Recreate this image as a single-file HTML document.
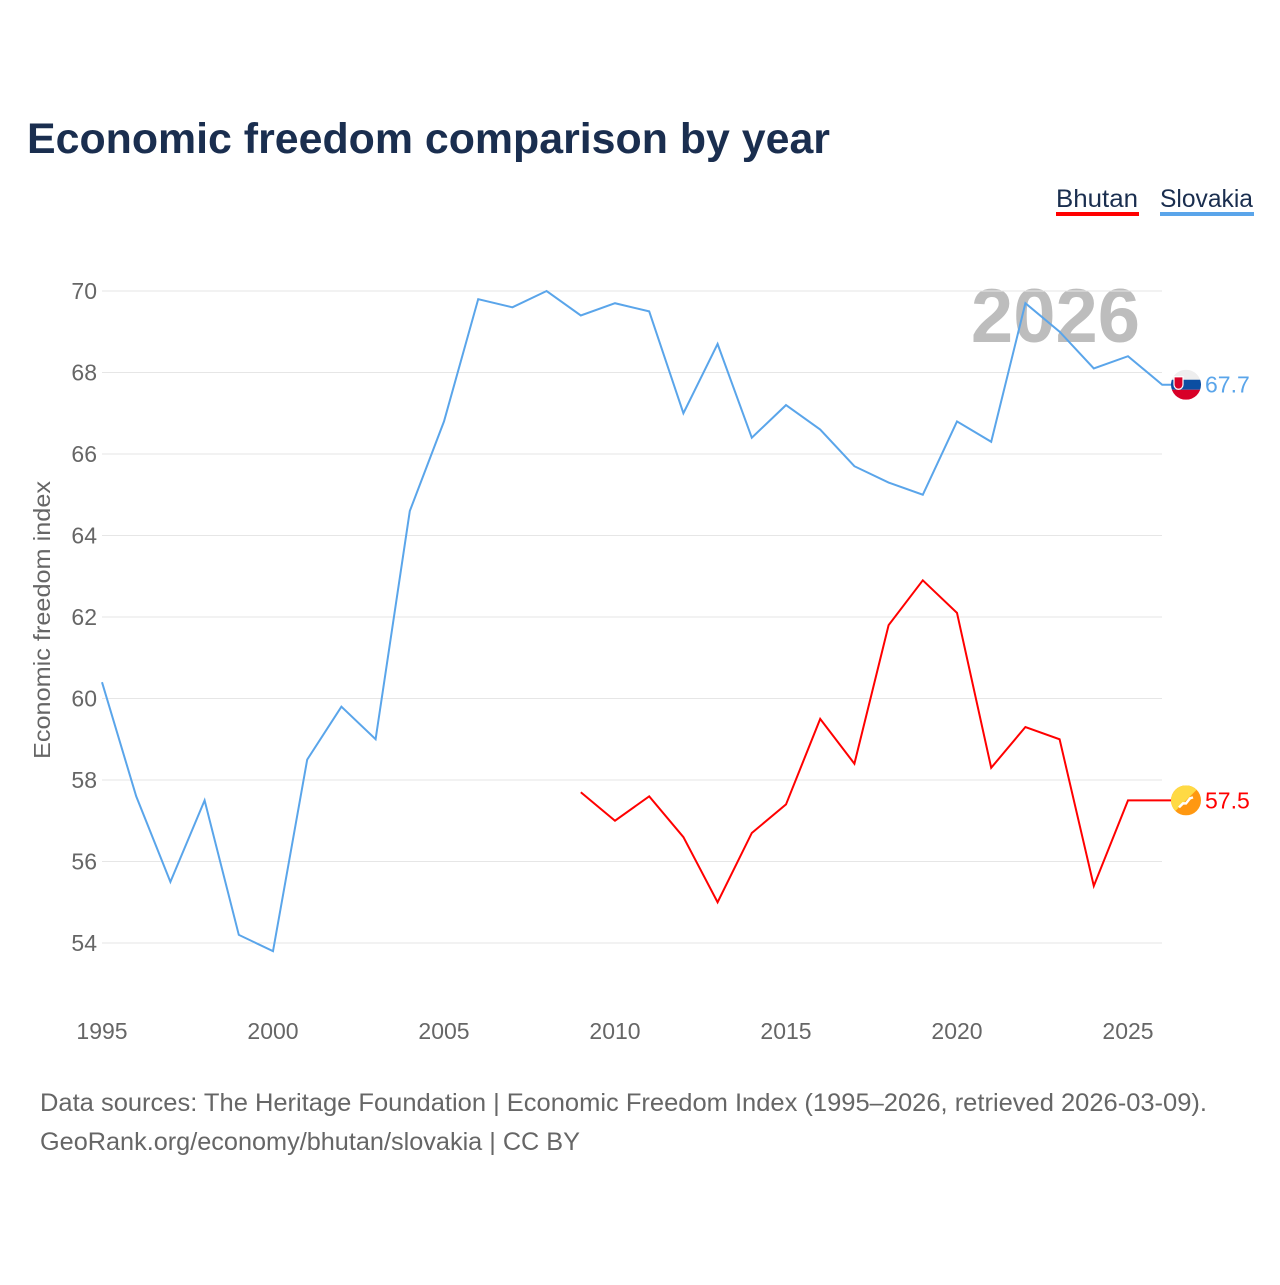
<!DOCTYPE html>
<html><head><meta charset="utf-8"><style>
body{margin:0;background:#fff;width:1280px;height:1280px;overflow:hidden;font-family:"Liberation Sans",sans-serif}
</style></head><body>
<svg id="c" width="1280" height="1280" xmlns="http://www.w3.org/2000/svg" font-family="Liberation Sans, sans-serif">
<text x="27" y="153" font-size="43" font-weight="bold" fill="#1a2e4f" textLength="803" lengthAdjust="spacingAndGlyphs">Economic freedom comparison by year</text>
<g>
<text x="1056" y="207" font-size="25" fill="#1a2e4f" textLength="82" lengthAdjust="spacingAndGlyphs">Bhutan</text>
<rect x="1056" y="212" width="83" height="4" fill="#ff0000"/>
<text x="1160" y="207" font-size="25" fill="#1a2e4f" textLength="93" lengthAdjust="spacingAndGlyphs">Slovakia</text>
<rect x="1160" y="212" width="94" height="4" fill="#5aa5ea"/>
</g>
<text x="1140" y="342" font-size="76" font-weight="bold" fill="#bdbdbd" text-anchor="end">2026</text>
<g id="grid"></g><g id="xt"></g><g id="yt"></g><g id="lines"></g>
<text transform="translate(50,620) rotate(-90)" font-size="23" fill="#666" text-anchor="middle" textLength="278" lengthAdjust="spacingAndGlyphs">Economic freedom index</text>
<text x="40" y="1111" font-size="25" fill="#666" textLength="1167" lengthAdjust="spacingAndGlyphs">Data sources: The Heritage Foundation | Economic Freedom Index (1995–2026, retrieved 2026-03-09).</text>
<text x="40" y="1150" font-size="25" fill="#666" textLength="540" lengthAdjust="spacingAndGlyphs">GeoRank.org/economy/bhutan/slovakia | CC BY</text>
</svg>
<script>
const years=[1995,1996,1997,1998,1999,2000,2001,2002,2003,2004,2005,2006,2007,2008,2009,2010,2011,2012,2013,2014,2015,2016,2017,2018,2019,2020,2021,2022,2023,2024,2025,2026];
const slovakia=[60.4,57.6,55.5,57.5,54.2,53.8,58.5,59.8,59.0,64.6,66.8,69.8,69.6,70.0,69.4,69.7,69.5,67.0,68.7,66.4,67.2,66.6,65.7,65.3,65.0,66.8,66.3,69.7,69.0,68.1,68.4,67.7];
const bhutan=[null,null,null,null,null,null,null,null,null,null,null,null,null,null,57.7,57.0,57.6,56.6,55.0,56.7,57.4,59.5,58.4,61.8,62.9,62.1,58.3,59.3,59.0,55.4,57.5,57.5];
const yTicks=[54,56,58,60,62,64,66,68,70];
const xTicks=[1995,2000,2005,2010,2015,2020,2025];
const NS='http://www.w3.org/2000/svg';
const x=v=>102+(v-1995)*34.2;
const y=v=>291+(70-v)*40.75;
function mk(t,a,p){const e=document.createElementNS(NS,t);for(const k in a)e.setAttribute(k,a[k]);p.appendChild(e);return e;}
const grid=document.getElementById('grid'),yt=document.getElementById('yt'),xt=document.getElementById('xt'),lines=document.getElementById('lines');
yTicks.forEach(v=>{
 const l=mk('line',{x1:102,x2:1162,y1:y(v),y2:y(v),stroke:'#e6e6e6','stroke-width':1},grid);
 
 
 const t=mk('text',{x:97,y:y(v)+8,'font-size':23,fill:'#666','text-anchor':'end'},yt);
 t.textContent=v;
 
 
});
xTicks.forEach(v=>{
 const t=mk('text',{x:x(v),y:1039,'font-size':23,fill:'#666','text-anchor':'middle'},xt);
 t.textContent=v;
 
 
});
function series(vals,color,name){
 let d='';let last=null;
 vals.forEach((v,i)=>{if(v==null)return;d+=(d?'L':'M')+x(years[i])+','+y(v);last=[years[i],v];});
 d+='L'+(x(last[0])+10)+','+y(last[1]);
 const p=mk('path',{d:d,fill:'none',stroke:color,'stroke-width':2},lines);
 
 
 return last;
}
const ls=series(slovakia,'#5aa5ea','slovakia');
const lb=series(bhutan,'#ff0000','bhutan');
const cy=y(ls[1]),cx=1186;
const fs=mk('g',{},lines);


mk('defs',{},fs).innerHTML='<clipPath id="cs"><circle cx="'+cx+'" cy="'+cy+'" r="15"/></clipPath><clipPath id="cb"><circle cx="'+cx+'" cy="'+y(lb[1])+'" r="15"/></clipPath>';
const g1=mk('g',{'clip-path':'url(#cs)'},fs);
mk('rect',{x:cx-15,y:cy-15,width:30,height:10,fill:'#eee'},g1);
mk('rect',{x:cx-15,y:cy-5,width:30,height:10,fill:'#0b4ea2'},g1);
mk('rect',{x:cx-15,y:cy+5,width:30,height:10,fill:'#d80027'},g1);
mk('path',{d:`M${cx-12},${cy-8}h9v8a4.5,4.5 0 0 1-9,0z`,fill:'#d80027',stroke:'#fff','stroke-width':1.2},g1);
const st=mk('text',{x:1205,y:cy+8,'font-size':23,fill:'#5aa5ea'},lines);
st.textContent=ls[1].toFixed(1);


const by=y(lb[1]);
const fb=mk('g',{'clip-path':'url(#cb)'},lines);


mk('rect',{x:cx-15,y:by-15,width:30,height:30,fill:'#ff9811'},fb);
mk('path',{d:`M${cx-15},${by+15}L${cx+15},${by-15}L${cx-15},${by-15}z`,fill:'#ffda44'},fb);
mk('path',{d:`M${cx-7},${by+7}l4,-4l3,0l4,-5l3,-1`,fill:'none',stroke:'#fff','stroke-width':2.5},fb);
const bt=mk('text',{x:1205,y:by+8,'font-size':23,fill:'#ff0000'},lines);
bt.textContent=lb[1].toFixed(1);


</script>
</body></html>
